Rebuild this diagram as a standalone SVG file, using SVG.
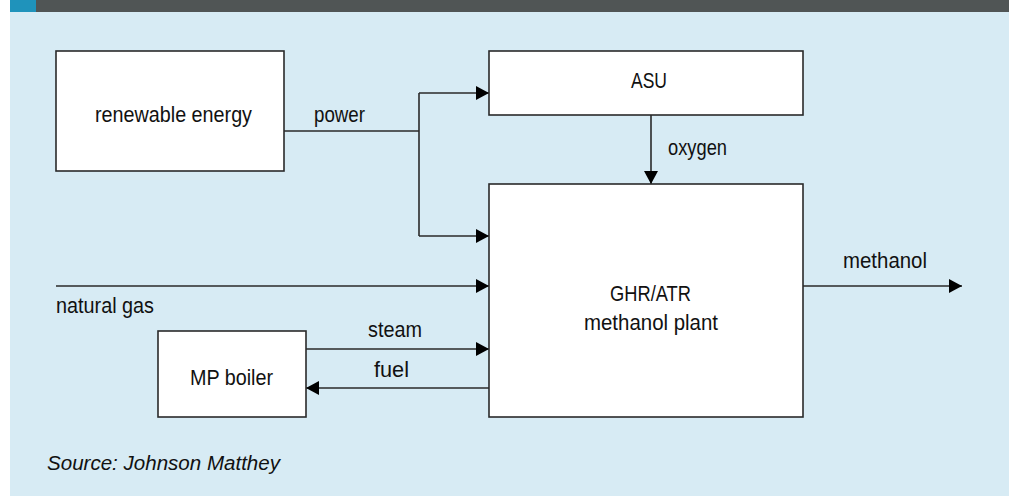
<svg xmlns="http://www.w3.org/2000/svg" width="1009" height="496" viewBox="0 0 1009 496">
<style>
.box{fill:#ffffff;stroke:#2a2a2a;stroke-width:1.6}
.ln{fill:none;stroke:#2a2a2a;stroke-width:1.6}
.t{font-family:"Liberation Sans",Arial,sans-serif;font-size:22px;fill:#111111}
.src{font-family:"Liberation Sans",Arial,sans-serif;font-size:20px;font-style:italic;fill:#111111}
</style>
<defs>
<marker id="ah" markerUnits="userSpaceOnUse" markerWidth="14" markerHeight="14" refX="13" refY="7" orient="auto">
<path d="M0,0 L13,7 L0,14 Z" fill="#000"/>
</marker>
</defs>
<rect x="0" y="0" width="1009" height="496" fill="#ffffff"/>
<rect x="10" y="12" width="999" height="484" fill="#d7ebf4"/>
<rect x="36" y="0" width="973" height="12" fill="#505555"/>
<rect x="10" y="0" width="26" height="12" fill="#1f93bb"/>

<g id="connectors">
<path class="ln" d="M284,131 H419"/>
<path class="ln" d="M419,93 V236"/>
<path class="ln" d="M419,93 H489" marker-end="url(#ah)"/>
<path class="ln" d="M419,236 H489" marker-end="url(#ah)"/>
<path class="ln" d="M651,115 V184" marker-end="url(#ah)"/>
<path class="ln" d="M56,286 H489" marker-end="url(#ah)"/>
<path class="ln" d="M306,349 H489" marker-end="url(#ah)"/>
<path class="ln" d="M489,388 H306" marker-end="url(#ah)"/>
<path class="ln" d="M803,286 H962" marker-end="url(#ah)"/>
<text class="t" x="314" y="122" textLength="51" lengthAdjust="spacingAndGlyphs">power</text>
<text class="t" x="668" y="155" textLength="59" lengthAdjust="spacingAndGlyphs">oxygen</text>
<text class="t" x="56" y="313" textLength="98" lengthAdjust="spacingAndGlyphs">natural gas</text>
<text class="t" x="368" y="337" textLength="54" lengthAdjust="spacingAndGlyphs">steam</text>
<text class="t" x="374" y="377" textLength="35" lengthAdjust="spacingAndGlyphs">fuel</text>
<text class="t" x="843" y="268" textLength="84" lengthAdjust="spacingAndGlyphs">methanol</text>
</g>

<g id="renewable-energy">
<rect class="box" x="56" y="51" width="228" height="120"/>
<text class="t" x="95" y="122" textLength="157" lengthAdjust="spacingAndGlyphs">renewable energy</text>
</g>
<g id="asu">
<rect class="box" x="489" y="51" width="314" height="64"/>
<text class="t" x="631" y="88" textLength="36" lengthAdjust="spacingAndGlyphs">ASU</text>
</g>
<g id="methanol-plant">
<rect class="box" x="489" y="184" width="314" height="233"/>
<text class="t" x="610" y="301" textLength="81" lengthAdjust="spacingAndGlyphs">GHR/ATR</text>
<text class="t" x="584" y="330" textLength="134" lengthAdjust="spacingAndGlyphs">methanol plant</text>
</g>
<g id="mp-boiler">
<rect class="box" x="158" y="331" width="148" height="86"/>
<text class="t" x="190" y="385" textLength="83" lengthAdjust="spacingAndGlyphs">MP boiler</text>
</g>

<text class="src" x="47" y="470" textLength="233" lengthAdjust="spacingAndGlyphs">Source: Johnson Matthey</text>
</svg>
